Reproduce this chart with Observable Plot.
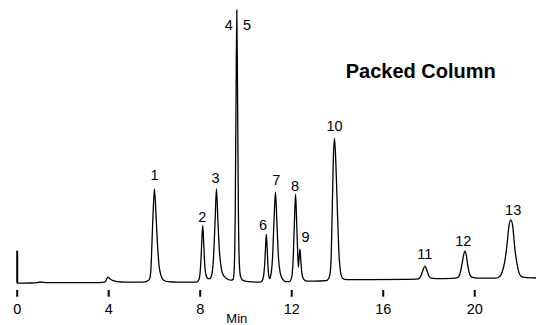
<!DOCTYPE html>
<html>
<head>
<meta charset="utf-8">
<script src="https://cdn.jsdelivr.net/npm/d3@7"></script>
<script src="https://cdn.jsdelivr.net/npm/@observablehq/plot@0.6"></script>
<style>
  html, body { margin: 0; padding: 0; background: #fff; overflow: hidden; }
</style>
</head>
<body>
<div id="chart"></div>
<script>
// Chromatogram trace: retention time (min) and detector signal (arbitrary units)
const traceTime = [
  0, 0.6, 0.85, 1.0, 1.15, 1.4, 2.5, 3.6, 3.82, 3.9, 3.96, 4.05, 4.2, 4.4, 4.7,
  5.5, 5.68, 5.78, 5.84, 5.89, 5.94, 6.00, 6.06, 6.12, 6.19, 6.28, 6.40, 6.6, 7.0,
  7.85, 7.95, 8.02, 8.07, 8.11, 8.15, 8.20, 8.27, 8.35, 8.41,
  8.50, 8.58, 8.65, 8.71, 8.77, 8.84, 8.92, 8.98, 9.08, 9.2, 9.35,
  9.44, 9.49, 9.53, 9.565, 9.60, 9.635, 9.67, 9.71, 9.76, 9.85, 10.1,
  10.6, 10.70, 10.76, 10.82, 10.86, 10.89, 10.92, 10.96, 11.01, 11.04,
  11.08, 11.16, 11.23, 11.29, 11.35, 11.42, 11.50, 11.60, 11.75,
  11.9, 12.0, 12.07, 12.13, 12.17, 12.21, 12.25, 12.29, 12.33, 12.36, 12.40, 12.45, 12.52, 12.65,
  13.0, 13.5, 13.62, 13.68, 13.73, 13.77, 13.82, 13.87, 13.93, 14.00, 14.06, 14.13, 14.22, 14.40,
  15.5, 17.0, 17.5, 17.62, 17.72, 17.82, 17.92, 18.0, 18.1, 18.3,
  19.0, 19.25, 19.35, 19.45, 19.52, 19.57, 19.63, 19.70, 19.78, 19.88, 20.1,
  20.9, 21.05, 21.18, 21.30, 21.40, 21.50, 21.58, 21.66, 21.76, 21.86, 21.96, 22.10, 22.3, 22.7
];
const traceSignal = [
  0, 0.2, 0.5, 1.2, 0.8, 0.6, 0.5, 0.6, 1, 3.5, 6, 4.5, 2.5, 1.5, 1,
  1, 2, 4, 12, 40, 70, 94.4, 72, 44, 20, 8, 3, 1.5, 1,
  1, 4, 18, 42, 57.7, 42, 18, 7, 4.5, 4.5,
  8, 25, 62, 94.4, 64, 32, 15, 9.5, 6, 4, 3,
  4, 16, 70, 180, 273.4, 180, 70, 20, 7, 3, 1.5,
  1, 2, 6, 20, 38, 48.7, 38, 18, 6, 4.5,
  7, 25, 65, 91, 62, 26, 10, 4, 1.5,
  1.5, 6, 28, 70, 89, 65, 38, 16, 28, 34, 22, 9, 4, 2,
  2, 2.5, 5, 10, 30, 72, 125, 144.7, 120, 70, 32, 12, 5, 3.5,
  3.6, 3.8, 4, 6, 12, 17, 12, 7, 5, 4.6,
  4.8, 5.5, 9, 20, 29, 32, 28, 17, 9, 6, 5,
  5, 6, 10, 20, 36, 58, 63.4, 57, 33, 18, 9, 6, 5.5, 5.2
];

// Injection marker at the start of the run
const injectionTime = [0];
const injectionSignal = [32];

// Peak labels and where they sit
const peakLabels = ["1", "2", "3", "4", "5", "6", "7", "8", "9", "10", "11", "12", "13"];
const labelTime = [6.00, 8.09, 8.67, 9.25, 10.05, 10.75, 11.32, 12.14, 12.60, 13.87, 17.82, 19.50, 21.68];
const labelSignal = [107.5, 65.4, 104.4, 257.7, 257.7, 57.7, 102.7, 96.7, 46, 156.7, 28.7, 42, 72.7];

// Axis
const xTicks = [0, 4, 8, 12, 16, 20];
const xTickLabels = ["0", "4", "8", "12", "16", "20"];
const xAxisLabel = "Min";
const xAxisLabelTime = 9.6;

// Annotation
const titleText = "Packed Column";
const titleTime = 17.64;
const titleSignal = 212;

const trace = traceTime.map((t, i) => ({ time: t, signal: traceSignal[i] }));
const injection = injectionTime.map((t, i) => ({ time: t, signal: injectionSignal[i] }));
const labels = peakLabels.map((l, i) => ({ label: l, time: labelTime[i], signal: labelSignal[i] }));

const chart = Plot.plot({
  width: 536,
  height: 325,
  marginTop: 0,
  marginBottom: 35,
  marginLeft: 16.7,
  marginRight: 0,
  style: { fontFamily: "'Liberation Sans', Arial, sans-serif", fontSize: "14.5px", background: "#fff", color: "#000" },
  x: { domain: [0, 22.7] },
  y: { domain: [-7.3, 282.7], axis: null },
  marks: [
    Plot.axisX({
      ticks: xTicks,
      tickFormat: (d) => xTickLabels[xTicks.indexOf(d)],
      tickSize: 6.7,
      tickPadding: 6.3,
      strokeWidth: 2,
      label: null
    }),
    Plot.ruleX(injection, { x: "time", y1: 0, y2: "signal", stroke: "#000", strokeWidth: 2 }),
    Plot.line(trace, { x: "time", y: "signal", curve: "monotone-x", stroke: "#000", strokeWidth: 1.3 }),
    Plot.text(labels, { x: "time", y: "signal", text: "label", fill: "#000" }),
    Plot.text([{ time: titleTime, signal: titleSignal, text: titleText }], {
      x: "time", y: "signal", text: "text", fontSize: 20, fontWeight: "bold", fill: "#000"
    }),
    Plot.text([{ time: xAxisLabelTime, text: xAxisLabel }], {
      x: "time", text: "text", frameAnchor: "bottom", lineAnchor: "bottom", dy: 32, fontSize: 13, fill: "#000", clip: false
    })
  ]
});
document.getElementById("chart").appendChild(chart);
</script>
</body>
</html>
